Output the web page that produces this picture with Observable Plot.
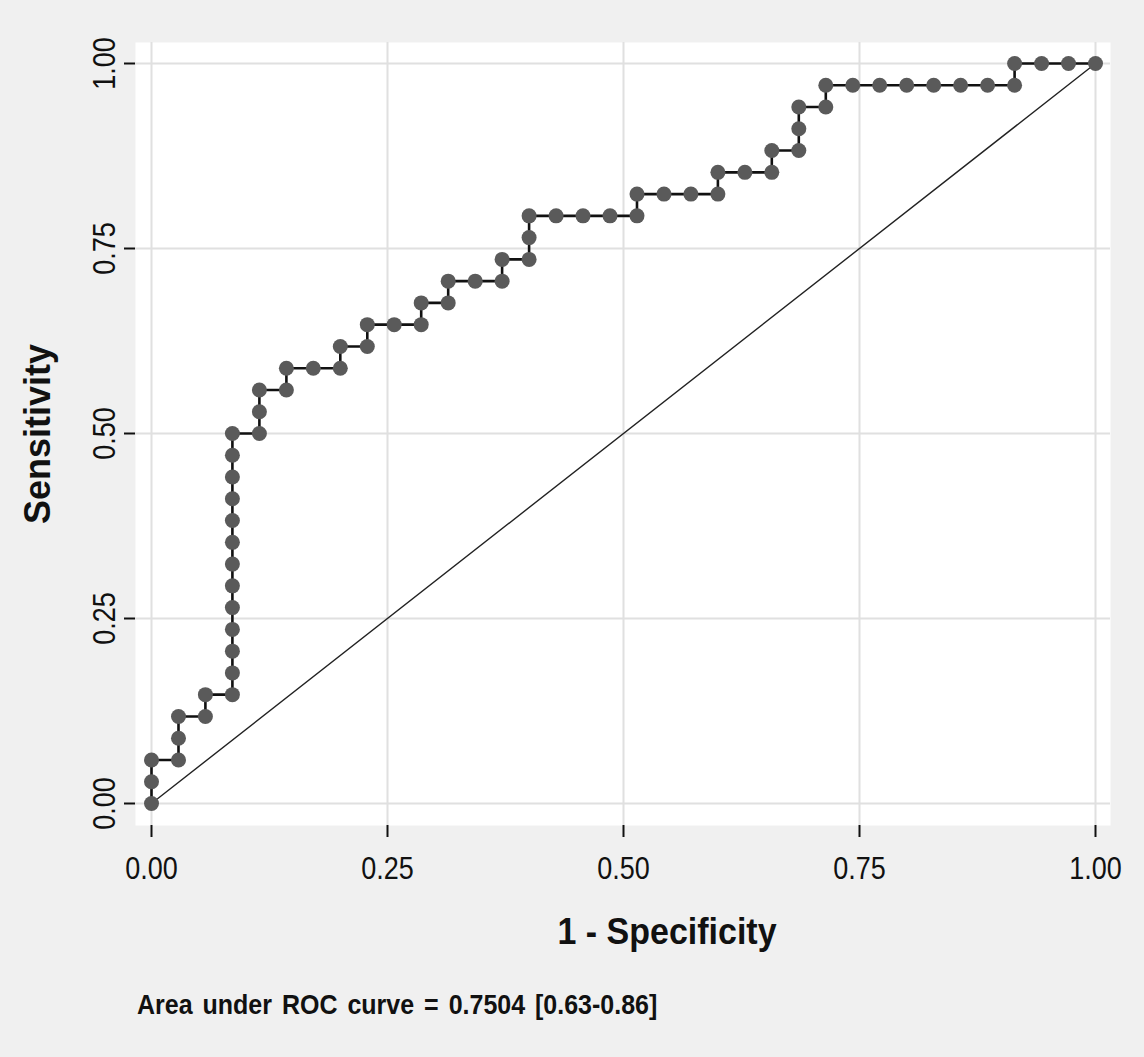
<!DOCTYPE html>
<html><head><meta charset="utf-8">
<script src="https://cdn.jsdelivr.net/npm/d3@7"></script>
<script src="https://cdn.jsdelivr.net/npm/@observablehq/plot@0.6"></script>
<style>
html,body{margin:0;padding:0;background:#f0f0f0;}
#wrap{position:relative;width:1144px;height:1057px;background:#f0f0f0;}
#cap{position:absolute;left:137px;top:990px;font:bold 25px "Liberation Sans", Arial, sans-serif;line-height:30px;word-spacing:3px;color:#111;white-space:nowrap;transform:scaleY(1.1);transform-origin:0 80%;}
</style></head><body>
<div id="wrap"><div id="chart"></div><div id="cap">Area under ROC curve = 0.7504 [0.63-0.86]</div></div>
<script>
// 1 - Specificity (false positive rate) of each ROC point
const fpr = [
  0, 0, 0, 0.0286, 0.0286, 0.0286, 0.0571, 0.0571, 0.0857,
  0.0857, 0.0857, 0.0857, 0.0857, 0.0857, 0.0857, 0.0857, 0.0857, 0.0857, 0.0857, 0.0857, 0.0857,
  0.1143, 0.1143, 0.1143, 0.1429, 0.1429, 0.1714, 0.2000, 0.2000, 0.2286, 0.2286,
  0.2571, 0.2857, 0.2857, 0.3143, 0.3143, 0.3429, 0.3714, 0.3714, 0.4000, 0.4000, 0.4000,
  0.4286, 0.4571, 0.4857, 0.5143, 0.5143, 0.5429, 0.5714, 0.6000, 0.6000, 0.6286, 0.6571, 0.6571,
  0.6857, 0.6857, 0.6857, 0.7143, 0.7143,
  0.7429, 0.7714, 0.8000, 0.8286, 0.8571, 0.8857, 0.9143, 0.9143, 0.9429, 0.9714, 1.0000
];
// Sensitivity of each ROC point
const sens = [
  0, 0.0294, 0.0588, 0.0588, 0.0882, 0.1176, 0.1176, 0.1471, 0.1471,
  0.1765, 0.2059, 0.2353, 0.2647, 0.2941, 0.3235, 0.3529, 0.3824, 0.4118, 0.4412, 0.4706, 0.5000,
  0.5000, 0.5294, 0.5588, 0.5588, 0.5882, 0.5882, 0.5882, 0.6176, 0.6176, 0.6471,
  0.6471, 0.6471, 0.6765, 0.6765, 0.7059, 0.7059, 0.7059, 0.7353, 0.7353, 0.7647, 0.7941,
  0.7941, 0.7941, 0.7941, 0.7941, 0.8235, 0.8235, 0.8235, 0.8235, 0.8529, 0.8529, 0.8529, 0.8824,
  0.8824, 0.9118, 0.9412, 0.9412, 0.9706,
  0.9706, 0.9706, 0.9706, 0.9706, 0.9706, 0.9706, 0.9706, 1.0000, 1.0000, 1.0000, 1.0000
];
// reference (chance) line
const refX = [0, 1];
const refY = [0, 1];
// axis ticks
const tickValues = [0, 0.25, 0.5, 0.75, 1];
const tickLabels = ["0.00", "0.25", "0.50", "0.75", "1.00"];
const xTitle = "1 - Specificity";
const yTitle = "Sensitivity";

const roc = fpr.map((x, i) => ({x, y: sens[i]}));
const ref = refX.map((x, i) => ({x, y: refY[i]}));
const fmt = d => tickLabels[tickValues.indexOf(d)];

const chart = Plot.plot({
  width: 1144,
  height: 975,
  marginLeft: 135,
  marginRight: 34,
  marginTop: 42,
  marginBottom: 150,
  style: {background: "transparent", fontFamily: "'Liberation Sans', Arial, sans-serif", color: "#111"},
  x: {domain: [0, 1], insetLeft: 16, insetRight: 15},
  y: {domain: [0, 1], insetTop: 21, insetBottom: 22},
  marks: [
    Plot.frame({fill: "white", stroke: null}),
    Plot.gridX(tickValues, {stroke: "#e0e0e0", strokeOpacity: 1, strokeWidth: 2}),
    Plot.gridY(tickValues, {stroke: "#e0e0e0", strokeOpacity: 1, strokeWidth: 2}),
    Plot.axisX({ticks: tickValues, tickFormat: fmt, tickSize: 12, tickPadding: 19, label: null, fontSize: 27, strokeWidth: 2, stroke: "#111", line: true}),
    Plot.axisY({ticks: tickValues, tickFormat: fmt, tickSize: 11, tickPadding: 10, tickRotate: -90, label: null, fontSize: 27, strokeWidth: 2, stroke: "#111", line: true}),
    Plot.line(ref, {x: "x", y: "y", stroke: "#222", strokeWidth: 1.4}),
    Plot.line(roc, {x: "x", y: "y", stroke: "#111", strokeWidth: 2.6}),
    Plot.dot(roc, {x: "x", y: "y", r: 7.5, fill: "#5a5a5a", stroke: null}),
    Plot.text([yTitle], {frameAnchor: "left", rotate: -90, dx: -86, fontSize: 36, fontWeight: "bold", lineAnchor: "bottom", textAnchor: "middle", fill: "#111"}),
    Plot.text([xTitle], {frameAnchor: "bottom", dx: 44, dy: 118, fontSize: 34, fontWeight: "bold", lineAnchor: "bottom", textAnchor: "middle", fill: "#111"})
  ]
});
// make tick-label glyphs a little taller, as in the original rendering
chart.querySelectorAll('g[aria-label="x-axis tick label"] text, g[aria-label="y-axis tick label"] text').forEach(t => {
  const tr = t.getAttribute("transform") || "";
  t.setAttribute("transform", tr + " scale(1,1.17)");
});
chart.querySelectorAll('g[aria-label="text"] text').forEach(t => {
  if (t.textContent === xTitle) {
    const tr = t.getAttribute("transform") || "";
    t.setAttribute("transform", tr + " scale(1,1.1)");
  }
});
document.getElementById("chart").appendChild(chart);
</script>
</body></html>
